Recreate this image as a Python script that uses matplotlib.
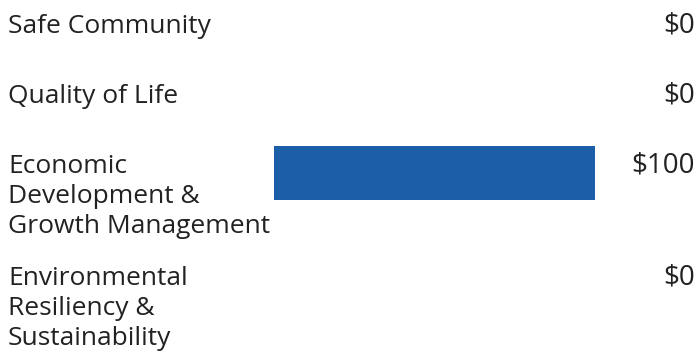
import matplotlib
matplotlib.use("Agg")
import matplotlib.pyplot as plt

categories = [
	"Safe Community",
	"Quality of Life",
	"Economic\nDevelopment &\nGrowth Management",
	"Environmental\nResiliency &\nSustainability",
]
values = [0, 0, 100, 0]
value_labels = ["$0", "$0", "$100", "$0"]

W, H = 698, 352
row_baselines = [33, 103, 173, 285]  # baseline of first text line, px from top
line_step = 30
bar_top_offset = -27
bar_height = 54
bar_color = "#1c5ea8"
text_color = "#222222"

plt.rcParams["font.family"] = ["Open Sans", "DejaVu Sans"]


def main():
	fig = plt.figure(figsize=(W / 100, H / 100), dpi=100)

	# background axes in pixel coordinates for text
	bg = fig.add_axes([0, 0, 1, 1])
	bg.set_xlim(0, W)
	bg.set_ylim(H, 0)
	bg.axis("off")

	# bar axes
	x0, x1 = 274, 595
	ax = fig.add_axes([x0 / W, 0, (x1 - x0) / W, 1])
	ax.set_xlim(0, max(values))
	ax.set_ylim(H, 0)
	ax.axis("off")

	for cat, val, lab, yb in zip(categories, values, value_labels, row_baselines):
		for i, line in enumerate(cat.split("\n")):
			bg.text(8, yb + i * line_step, line, fontsize=19, color=text_color,
				va="baseline", ha="left")
		bg.text(695, yb, lab, fontsize=20, color=text_color, va="baseline",
			ha="right")
		ax.barh(yb + bar_top_offset, val, height=bar_height, align="edge",
			color=bar_color)

	plt.savefig("out.png", dpi=100)


if __name__ == '__main__':
	main()
